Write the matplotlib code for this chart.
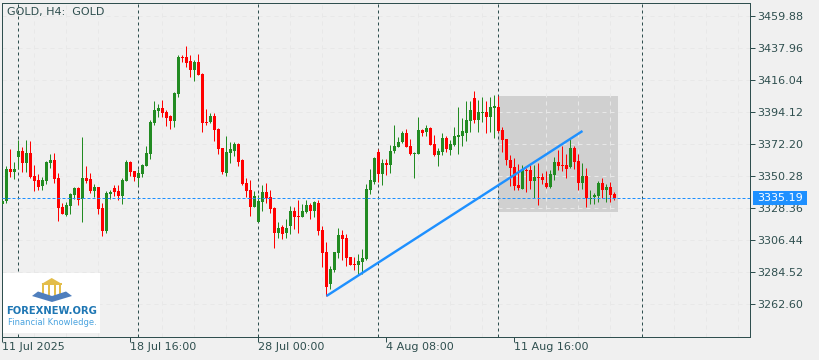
import matplotlib
matplotlib.use('Agg')
import matplotlib.pyplot as plt
from matplotlib.patches import Polygon, Rectangle

# H4 candles
opens = [3331.3, 3333.1, 3355.1, 3353.0, 3363.3, 3367.4, 3359.2, 3366.0, 3350.3, 3347.5,
         3343.4, 3346.8, 3359.2, 3361.2, 3348.9, 3329.0, 3323.5, 3329.7, 3337.2, 3342.0,
         3334.5, 3348.9, 3348.2, 3340.0, 3342.7, 3328.3, 3312.6, 3337.9, 3342.0, 3340.0,
         3336.6, 3346.8, 3359.8, 3353.7, 3348.9, 3351.6, 3357.1, 3365.3, 3386.6, 3394.8,
         3396.8, 3394.1, 3391.3, 3387.9, 3406.4, 3431.8, 3431.8, 3429.0, 3422.9, 3428.3,
         3420.1, 3387.2, 3387.2, 3391.3, 3382.4, 3369.4, 3352.3, 3366.0, 3367.4, 3372.2,
         3361.2, 3345.5, 3340.7, 3329.0, 3318.8, 3332.5, 3339.3, 3335.9, 3328.3, 3311.2,
         3315.3, 3311.2, 3316.0, 3326.3, 3322.9, 3322.2, 3325.6, 3330.4, 3326.3, 3331.8,
         3313.3, 3298.2, 3276.3, 3285.9, 3297.5, 3309.8, 3307.8, 3294.8, 3290.0, 3289.3,
         3291.4, 3293.4, 3340.7, 3346.1, 3366.7, 3351.6, 3359.2, 3357.8, 3367.4, 3370.1,
         3373.5, 3379.7, 3370.8, 3365.3, 3365.3, 3381.8, 3380.4, 3383.1, 3372.2, 3364.6,
         3366.7, 3376.3, 3368.1, 3371.5, 3377.0, 3377.6, 3379.7, 3387.9, 3403.7, 3388.6,
         3393.4, 3394.1, 3390.7, 3396.8, 3397.5, 3381.8, 3375.6, 3361.2, 3356.4, 3344.1,
         3341.3, 3354.4, 3354.4, 3346.8, 3349.6, 3349.6, 3345.5, 3342.7, 3350.9, 3359.8,
         3357.8, 3357.8, 3356.4, 3369.4, 3360.5, 3345.5, 3350.2, 3334.5, 3335.9, 3336.6,
         3345.5, 3340.7, 3342.7, 3337.9]
highs = [3333.5, 3357.1, 3368.7, 3359.8, 3374.9, 3370.1, 3374.9, 3374.2, 3357.8, 3351.6,
         3349.6, 3360.5, 3365.3, 3366.0, 3352.3, 3331.8, 3332.5, 3338.6, 3342.7, 3342.7,
         3377.0, 3357.1, 3352.3, 3344.8, 3342.7, 3331.8, 3340.0, 3340.7, 3344.1, 3344.1,
         3348.9, 3361.2, 3360.5, 3353.7, 3355.1, 3358.5, 3370.8, 3388.6, 3401.6, 3399.6,
         3402.3, 3395.5, 3392.0, 3407.8, 3433.1, 3433.1, 3439.3, 3433.1, 3429.7, 3433.8,
         3420.8, 3396.1, 3393.4, 3393.4, 3383.1, 3369.4, 3377.7, 3373.5, 3373.5, 3372.9,
         3361.9, 3348.9, 3347.5, 3340.0, 3337.2, 3344.1, 3345.5, 3340.7, 3329.0, 3318.7,
         3316.7, 3320.8, 3329.7, 3329.0, 3333.8, 3331.1, 3333.8, 3331.8, 3333.1, 3333.8,
         3316.0, 3305.0, 3288.6, 3298.2, 3314.6, 3313.3, 3310.5, 3294.8, 3294.8, 3296.8,
         3300.3, 3344.8, 3355.0, 3363.3, 3368.7, 3361.9, 3361.9, 3371.5, 3385.2, 3377.0,
         3381.1, 3382.4, 3375.6, 3366.7, 3390.7, 3382.4, 3385.2, 3383.8, 3378.3, 3369.4,
         3379.7, 3377.6, 3374.9, 3383.8, 3397.5, 3390.0, 3401.6, 3401.6, 3408.5, 3402.3,
         3404.4, 3401.6, 3404.4, 3405.7, 3405.0, 3383.8, 3375.6, 3364.6, 3362.6, 3358.5,
         3357.8, 3355.7, 3357.8, 3357.8, 3359.2, 3352.3, 3353.7, 3354.4, 3363.3, 3368.1,
         3370.8, 3365.3, 3375.6, 3370.8, 3365.3, 3359.2, 3355.7, 3340.7, 3338.6, 3346.8,
         3348.9, 3344.8, 3346.1, 3339.3]
lows = [3331.0, 3332.0, 3349.8, 3348.2, 3355.1, 3353.0, 3353.0, 3348.9, 3340.0, 3340.7,
        3340.7, 3344.8, 3355.7, 3345.5, 3319.4, 3324.2, 3322.9, 3324.2, 3334.5, 3330.4,
        3318.8, 3345.5, 3338.6, 3335.9, 3324.2, 3309.2, 3311.2, 3334.5, 3336.6, 3333.8,
        3331.1, 3346.8, 3350.3, 3346.8, 3344.1, 3349.6, 3357.1, 3361.9, 3385.2, 3390.7,
        3390.7, 3384.5, 3382.4, 3383.8, 3404.4, 3428.3, 3424.9, 3418.1, 3415.3, 3419.4,
        3380.4, 3385.2, 3386.6, 3374.2, 3365.3, 3351.6, 3350.3, 3359.2, 3364.0, 3357.1,
        3344.1, 3335.9, 3322.9, 3329.0, 3318.8, 3326.3, 3331.8, 3324.9, 3300.9, 3307.8,
        3307.1, 3307.8, 3310.5, 3313.9, 3311.2, 3322.2, 3324.9, 3320.8, 3322.2, 3309.8,
        3287.9, 3268.1, 3272.9, 3284.5, 3294.1, 3292.7, 3288.6, 3289.3, 3285.9, 3282.4,
        3283.1, 3292.7, 3337.9, 3344.8, 3346.1, 3344.1, 3350.9, 3352.3, 3366.0, 3370.1,
        3372.9, 3370.1, 3364.6, 3348.9, 3365.3, 3377.6, 3377.6, 3371.5, 3363.9, 3357.1,
        3364.6, 3366.7, 3364.6, 3370.8, 3365.3, 3370.8, 3374.2, 3380.4, 3386.5, 3380.4,
        3387.2, 3379.7, 3380.4, 3376.3, 3380.4, 3366.7, 3357.8, 3343.4, 3340.7, 3340.7,
        3341.3, 3339.3, 3341.3, 3335.2, 3330.4, 3344.8, 3342.0, 3342.0, 3347.5, 3354.4,
        3353.7, 3348.9, 3355.7, 3355.0, 3340.7, 3341.3, 3329.0, 3331.1, 3331.1, 3332.4,
        3335.2, 3332.4, 3332.4, 3333.8]
closes = [3333.1, 3355.1, 3353.0, 3355.1, 3367.4, 3359.2, 3366.0, 3349.6, 3346.8, 3342.7,
          3347.5, 3359.8, 3361.2, 3348.2, 3328.3, 3324.2, 3330.4, 3337.9, 3342.0, 3333.8,
          3348.9, 3346.8, 3340.0, 3342.7, 3327.6, 3312.6, 3338.6, 3339.3, 3339.3, 3336.6,
          3347.5, 3359.8, 3353.0, 3349.6, 3352.3, 3357.8, 3366.0, 3387.2, 3395.5, 3396.8,
          3393.4, 3390.0, 3387.9, 3407.1, 3431.8, 3431.1, 3427.7, 3422.9, 3428.3, 3419.4,
          3386.6, 3386.6, 3391.3, 3381.8, 3368.7, 3353.0, 3366.7, 3368.7, 3372.2, 3359.8,
          3344.8, 3340.0, 3329.0, 3336.6, 3333.1, 3339.3, 3335.2, 3327.6, 3311.2, 3314.6,
          3310.5, 3314.6, 3326.3, 3322.2, 3322.2, 3326.3, 3330.4, 3326.3, 3332.4, 3312.6,
          3297.5, 3274.2, 3286.6, 3298.2, 3309.8, 3307.1, 3294.1, 3289.3, 3289.3, 3292.0,
          3294.1, 3341.3, 3347.5, 3362.6, 3351.6, 3359.2, 3357.8, 3367.4, 3370.8, 3373.5,
          3379.7, 3370.1, 3365.3, 3366.0, 3381.8, 3379.7, 3383.1, 3371.5, 3364.6, 3367.4,
          3376.3, 3368.7, 3372.2, 3377.6, 3378.3, 3381.1, 3388.6, 3395.5, 3388.6, 3394.1,
          3394.1, 3390.7, 3397.5, 3398.2, 3381.1, 3374.9, 3361.2, 3355.7, 3343.4, 3342.0,
          3354.4, 3353.7, 3346.8, 3349.6, 3348.9, 3347.5, 3342.7, 3351.6, 3359.8, 3357.1,
          3357.1, 3355.0, 3369.4, 3359.8, 3345.5, 3350.2, 3335.2, 3335.2, 3337.2, 3345.5,
          3340.7, 3342.7, 3337.2, 3335.19]

price_ticks = [3459.88, 3437.96, 3416.04, 3394.12, 3372.20, 3350.28, 3328.36, 3306.44, 3284.52, 3262.60]
date_ticks = [0, 32, 64, 96, 128]
date_labels = ['11 Jul 2025', '18 Jul 16:00', '28 Jul 00:00', '4 Aug 08:00', '11 Aug 16:00']
separators = [4, 34, 64, 94, 124, 160]
last_price = 3335.19
trend_bars = [81, 145]
trend_prices = [3268.1, 3381.1]
box_bars = [124, 154]
box_prices = [3325.6, 3405.0]

W, H = 820, 360
BG = '#f0f0f0'
FRAME = '#2f4f4f'
GREEN = '#228b22'
RED = '#ff0000'
BLUE = '#1e90ff'
PX = 72 / 100  # one pixel in points
FS = 8.0

plt.rcParams['font.family'] = ['DejaVu Sans']
fig = plt.figure(figsize=(W / 100, H / 100), dpi=100, facecolor=BG)
ax = fig.add_axes([2.5 / W, 1 - 336.5 / H, 748 / W, 334 / H], facecolor=BG)
ax.set_xlim(0, 187)  # 4 px per bar
ax.set_ylim(3394.12 - 224.5 * 0.685, 3394.12 + 109.5 * 0.685)

# shaded box sits under the grid
ax.add_patch(Rectangle((box_bars[0], box_prices[0]), box_bars[1] - box_bars[0],
                       box_prices[1] - box_prices[0], fc='#d0d0d0', ec='none', zorder=0.5))

ax.set_yticks(price_ticks)
ax.set_xticks(range(0, 187, 8), minor=True)
ax.grid(True, axis='y', color='#e8e8e8', lw=PX, ls=(0, (4, 4)), zorder=1)
ax.grid(True, axis='x', which='minor', color='#e8e8e8', lw=PX, ls=(0, (4, 4)), zorder=1)
ax.tick_params(axis='x', which='minor', length=0)
ax.set_axisbelow(True)

for s in separators:
    ax.axvline(s, color=FRAME, lw=PX, ls=(0, (3, 3)), zorder=2)

# candles
bars = range(len(opens))
colors = [GREEN if c >= o else RED for o, c in zip(opens, closes)]
ax.vlines(bars, lows, highs, colors=colors, lw=PX, zorder=3)
ax.bar(bars, [max(abs(c - o), 0.7) for o, c in zip(opens, closes)],
       bottom=[min(o, c) for o, c in zip(opens, closes)],
       width=0.75, color=colors, lw=0, zorder=3, antialiased=False)

ax.axhline(last_price, color=BLUE, lw=PX, ls=(0, (3, 2)), zorder=4)
ax.plot(trend_bars, trend_prices, color=BLUE, lw=PX * 2.4, zorder=5, solid_capstyle='butt')

ax.yaxis.tick_right()
ax.set_yticklabels(['%.2f' % p for p in price_ticks], fontsize=FS, color=FRAME)
ax.set_xticks(date_ticks)
ax.set_xticklabels(date_labels, fontsize=FS, color=FRAME, ha='left')
ax.tick_params(axis='y', length=3.5, width=PX, color=FRAME, pad=1.5)
ax.tick_params(axis='x', which='major', length=3.5, width=PX, color=FRAME, pad=0.5)
for s in ['left', 'right', 'top', 'bottom']:
    ax.spines[s].set_color(FRAME)
    ax.spines[s].set_linewidth(PX)
ax.spines['top'].set_zorder(6)

ax.text(7 / W, 1 - 11.5 / H, 'GOLD, H4:  GOLD', transform=fig.transFigure, fontsize=FS,
        color=FRAME, va='center', ha='left')

# last price tag over the axis labels
tag = fig.add_axes([753 / W, 1 - 205 / H, 54 / W, 14 / H], facecolor=BLUE)
tag.set_xticks([])
tag.set_yticks([])
for s in tag.spines.values():
    s.set_visible(False)
tag.text(0.5, 0.47, '%.2f' % last_price, transform=tag.transAxes, color='white', fontsize=FS,
         ha='center', va='center')

# logo in the bottom left corner
logo = fig.add_axes([3.3 / W, 1 - 333 / H, 96.7 / W, 60 / H], facecolor='white')
logo.set_xlim(3.3, 100)
logo.set_ylim(333, 273)
logo.axis('off')
logo.add_patch(Rectangle((3.3, 273), 96.7, 60, fc='white', ec='none'))
GOLD = '#e3bd4a'
logo.add_patch(Polygon([(41.5, 284), (51.7, 278), (62, 284)], fc=GOLD, ec='none'))
logo.add_patch(Rectangle((41.5, 283), 20.5, 2, fc=GOLD, ec='none'))
for px in [43, 48.5, 54.5, 60]:
    logo.add_patch(Rectangle((px - 1, 285), 2.2, 11, fc=GOLD, ec='none'))
logo.add_patch(Polygon([(32, 296), (38, 291.5), (52, 296), (66, 291.5), (72, 296), (52, 302)],
                       fc='#4f7fbd', ec='none'))
logo.text(52, 310.5, 'FOREXNEW.ORG', fontsize=7.2, fontweight='bold', color='#1f77b4',
          ha='center', va='center')
logo.text(52.5, 322.7, 'Financial Knowledge.', fontsize=6.0, color='#4aa3df',
          ha='center', va='center')

fig.savefig('out.png', dpi=100, facecolor=BG)
